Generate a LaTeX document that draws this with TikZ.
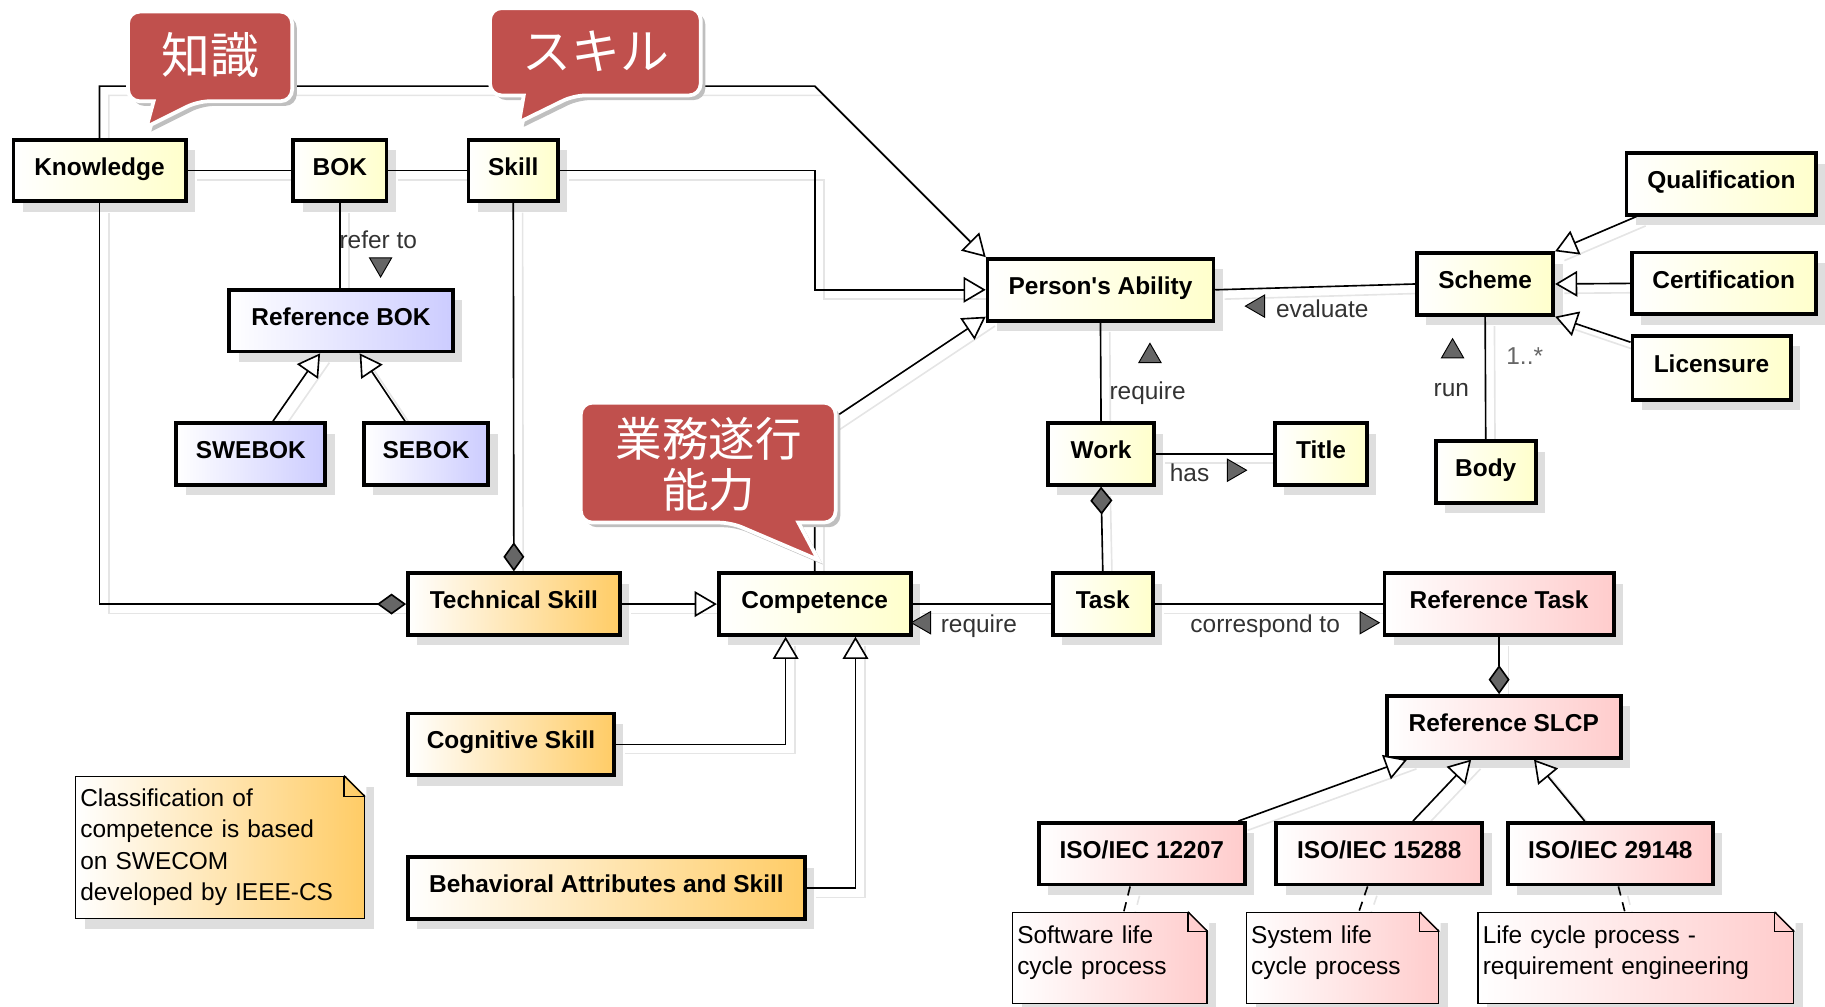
\documentclass[tikz,border=0pt]{standalone}
\usepackage{fontspec}
\setmainfont{Liberation Sans}
\newfontfamily\jpfont{Noto Sans CJK JP}
\usepackage{xcolor}
\usepackage{tikz}
\usetikzlibrary{arrows.meta,positioning,shadows,shapes.geometric,backgrounds}
\definecolor{classyellow}{HTML}{FFFFCC}
\definecolor{classorange}{HTML}{FFCC66}
\definecolor{classblue}{HTML}{CCCCFF}
\definecolor{classpink}{HTML}{FFCCCC}
\definecolor{calloutred}{HTML}{C0504D}
\tikzset{
    boxshadow/.style={
        drop shadow={shadow xshift=4pt, shadow yshift=-4.5pt, fill=black!13, opacity=1}
    },
    classbox/.style={
        draw,
        line width=1.6pt,
        minimum height=26.5pt,
        inner sep=2pt,
        text height=7.5pt,
        text depth=3.5pt,
        font=\fontsize{10.5}{12}\selectfont\bfseries,
        boxshadow
    },
    yellowbox/.style={classbox, left color=white, right color=classyellow},
    orangebox/.style={classbox, left color=white, right color=classorange},
    bluebox/.style={classbox, left color=white, right color=classblue},
    pinkbox/.style={classbox, left color=white, right color=classpink},
    notebox/.style={
        draw,
        line width=0.6pt,
        align=left,
        inner xsep=2pt,
        inner ysep=0pt,
        font=\fontsize{10.5}{13.5}\selectfont,
        boxshadow
    },
    assoc/.style={line width=0.7pt},
    gen/.style={assoc, -{Triangle[length=9.5pt, width=11pt, fill=white]}},
    partof/.style={assoc, -{Diamond[length=12.5pt, width=9pt, fill=black!60]}},
    partstart/.style={assoc, {Diamond[length=12pt, width=9.5pt, fill=black!60]}-},
    noteline/.style={assoc, dash pattern=on 4pt off 3pt},
    lineshadow/.style={draw=black!10, arrows=-, transform canvas={shift={(8,8)}}},
    lbl/.style={font=\fontsize{10.5}{12}\selectfont, text=black!80, inner sep=1pt},
    dirmark/.style={
        regular polygon,
        regular polygon sides=3,
        draw=black,
        line width=0.4pt,
        fill=black!60,
        inner sep=0pt,
        minimum size=11pt
    },
    callout/.style={
        fill=calloutred,
        draw=white,
        line width=1.6pt,
        drop shadow={shadow xshift=2pt, shadow yshift=-2pt, fill=black!25, opacity=1}
    },
    callouttext/.style={
        text=white,
        align=center,
        font=\jpfont\fontsize{21}{23}\selectfont
    }
}
% connector with a soft shadow behind the nodes
\newcommand{\umlline}[2]{%
    \begin{pgfonlayer}{background}\draw[#1, lineshadow] #2;\end{pgfonlayer}%
    \draw[#1] #2;}

\begin{document}
\begin{tikzpicture}[x=0.5pt, y=-0.5pt]
    \useasboundingbox (0,0) rectangle (1568,865);

    % knowledge / skill side
    \node[yellowbox, minimum width=74pt] (know) at (85.5,146.5) {Knowledge};
    \node[yellowbox, minimum width=40pt] (bok) at (292,146.5) {BOK};
    \node[yellowbox, minimum width=38.5pt] (skill) at (441,146.5) {Skill};
    \node[bluebox, minimum width=96pt] (refbok) at (293,275.5) {Reference BOK};
    \node[bluebox, minimum width=64pt] (swebok) at (215.5,390) {SWEBOK};
    \node[bluebox, minimum width=53.5pt] (sebok) at (366,390) {SEBOK};

    % ability and scheme
    \node[yellowbox, minimum width=97pt] (ability) at (945.5,249) {Person\textquotesingle s Ability};
    \node[yellowbox, minimum width=58.5pt] (scheme) at (1276,244) {Scheme};
    \node[yellowbox, minimum width=81.5pt] (qual) at (1479,158) {Qualification};
    \node[yellowbox, minimum width=79pt] (cert) at (1481,243.5) {Certification};
    \node[yellowbox, minimum width=68pt, minimum height=27.5pt] (lic) at (1470.5,316) {Licensure};
    \node[yellowbox, minimum width=45.5pt] (work) at (946,390) {Work};
    \node[yellowbox, minimum width=39.5pt] (title) at (1135,390) {Title};
    \node[yellowbox, minimum width=43pt] (body) at (1276.5,405.5) {Body};

    % tasks and processes
    \node[yellowbox, minimum width=43pt] (task) at (947.5,519) {Task};
    \node[pinkbox, minimum width=98.5pt] (reftask) at (1288,519) {Reference Task};
    \node[pinkbox, minimum width=100.5pt] (refslcp) at (1292,624.5) {Reference SLCP};
    \node[pinkbox, minimum width=88.5pt] (iso1) at (981,733.5) {ISO/IEC 12207};
    \node[pinkbox, minimum width=88.5pt] (iso2) at (1185,733.5) {ISO/IEC 15288};
    \node[pinkbox, minimum width=88pt] (iso3) at (1383.5,733.5) {ISO/IEC 29148};

    % competence
    \node[orangebox, minimum width=91pt] (techskill) at (441.5,519) {Technical Skill};
    \node[yellowbox, minimum width=82.5pt] (comp) at (700,519) {Competence};
    \node[orangebox, minimum width=88.5pt] (cogskill) at (439,639.5) {Cognitive Skill};
    \node[orangebox, minimum width=170.5pt] (behav) at (521,763) {Behavioral Attributes and Skill};

    % notes
    \node[notebox, left color=white, right color=classorange, text width=120pt, minimum height=61pt] (note) at (189,728) {
        Classification of\\
        competence is based\\
        on SWECOM\\
        developed by IEEE-CS
    };
    \node[notebox, left color=white, right color=classpink, text width=79.5pt, minimum height=39pt, text depth=20.3pt] (note1) at (953.5,823) {
        Software life\\
        cycle process
    };
    \node[notebox, left color=white, right color=classpink, text width=78.5pt, minimum height=39pt, text depth=20.3pt] (note2) at (1153.5,823) {
        System life\\
        cycle process
    };
    \node[notebox, left color=white, right color=classpink, text width=131.5pt, minimum height=39pt, text depth=20.3pt] (note3) at (1405.5,823) {
        Life cycle process -\\
        requirement engineering
    };
    \foreach \n/\f in {note/9pt, note1/8.5pt, note2/8.5pt, note3/8.5pt} {
        \fill[white] ([xshift=-\f, yshift=0.6pt]\n.north east) -- ([xshift=0.6pt, yshift=0.6pt]\n.north east) -- ([xshift=0.6pt, yshift=-\f]\n.north east) -- cycle;
        \draw[line width=0.6pt] ([xshift=-\f]\n.north east) -- ([yshift=-\f]\n.north east);
        \draw[line width=0.6pt] ([xshift=-\f]\n.north east) |- ([yshift=-\f]\n.north east);
    }

    % connectors
    \umlline{gen}{(know.north) |- (700,74) -- (ability.north west)}
    \umlline{gen}{(skill.east) -| (700,249) -- (ability.west)}
    \umlline{assoc}{(know.east) -- (bok.west)}
    \umlline{assoc}{(bok.east) -- (skill.west)}
    \umlline{assoc}{(bok.south) -- (bok.south |- refbok.north)}
    \umlline{gen}{([xshift=9.5pt]swebok.north) -- ([xshift=-9pt]refbok.south)}
    \umlline{gen}{([xshift=-9pt]sebok.north) -- ([xshift=8pt]refbok.south)}
    \umlline{partof}{(know.south) |- (techskill.west)}
    \umlline{partof}{(skill.south) -- (techskill.north)}
    \umlline{gen}{(techskill.east) -- (comp.west)}
    \umlline{gen}{(cogskill.east) -| ([xshift=-12.5pt]comp.south)}
    \umlline{gen}{(behav.east) -| ([xshift=17.5pt]comp.south)}
    \umlline{gen}{(comp.north) -- (700,370) -- ([yshift=2.5pt]ability.south west)}
    \umlline{assoc}{(ability.east) -- (scheme.west)}
    \umlline{gen}{([xshift=5pt]qual.south west) -- (scheme.north east)}
    \umlline{gen}{(cert.west) -- (scheme.east)}
    \umlline{gen}{([yshift=11pt]lic.west) -- (scheme.south east)}
    \umlline{assoc}{(ability.south) -- (work.north)}
    \umlline{assoc}{(work.east) -- (title.west)}
    \umlline{assoc}{(scheme.south) -- (body.north)}
    \umlline{partstart}{(work.south) -- (task.north)}
    \umlline{assoc}{(task.west) -- (comp.east)}
    \umlline{assoc}{(task.east) -- (reftask.west)}
    \umlline{partof}{(reftask.south) -- (reftask.south |- refslcp.north)}
    \umlline{gen}{([xshift=41.5pt]iso1.north) -- ([xshift=-41.5pt]refslcp.south)}
    \umlline{gen}{([xshift=14.5pt]iso2.north) -- ([xshift=-14pt]refslcp.south)}
    \umlline{gen}{([xshift=-11pt]iso3.north) -- ([xshift=13pt]refslcp.south)}
    \umlline{noteline}{([xshift=-5pt]iso1.south) -- ([xshift=6pt]note1.north)}
    \umlline{noteline}{([xshift=-5pt]iso2.south) -- ([xshift=7pt]note2.north)}
    \umlline{noteline}{([xshift=3.5pt]iso3.south) -- ([xshift=-4.75pt]note3.north)}

    % connector labels
    \node[lbl] (referlbl) at (325,206) {refer to};
    \node[dirmark, rotate=180] (refermark) at (327,227) {};
    \node[lbl] (evallbl) at (1136,265) {evaluate};
    \node[dirmark, rotate=90] (evalmark) at (1081,263) {};
    \node[lbl] (reqlbl) at (986,338) {require};
    \node[dirmark] (reqmark) at (988,306) {};
    \node[lbl] (haslbl) at (1022,406) {has};
    \node[dirmark, rotate=-90] (hasmark) at (1060,404) {};
    \node[lbl] (runlbl) at (1247,335) {run};
    \node[dirmark] (runmark) at (1248,302) {};
    \node[lbl, text=black!60] (multlbl) at (1310,306) {1..*};
    \node[lbl] (req2lbl) at (841,538) {require};
    \node[dirmark, rotate=90] (req2mark) at (794,535) {};
    \node[lbl] (corrlbl) at (1087,538) {correspond to};
    \node[dirmark, rotate=-90] (corrmark) at (1174,535) {};

    % callouts
    \draw[callout] (126,109) -- (132,87) [rounded corners=5pt] -- (110,87) -- (110,10) -- (251,10) -- (251,87) -- (170,87) [sharp corners] -- cycle;
    \node[callouttext] (chishiki) at (181,47) {知識};
    \draw[callout] (446,105) -- (450,82) [rounded corners=5pt] -- (421,82) -- (421,7) -- (602,7) -- (602,82) -- (493,82) [sharp corners] -- cycle;
    \node[callouttext] (skilljp) at (512,44) {スキル};
    \draw[callout] (703,481) -- (686,449) [rounded corners=5pt] -- (718,449) -- (718,346) -- (499,346) -- (499,449) -- (628,449) [sharp corners] -- cycle;
    \node[callouttext, font=\jpfont\fontsize{20}{22}\selectfont] (gyomu) at (609,399) {業務遂行\\能力};
\end{tikzpicture}
\end{document}
